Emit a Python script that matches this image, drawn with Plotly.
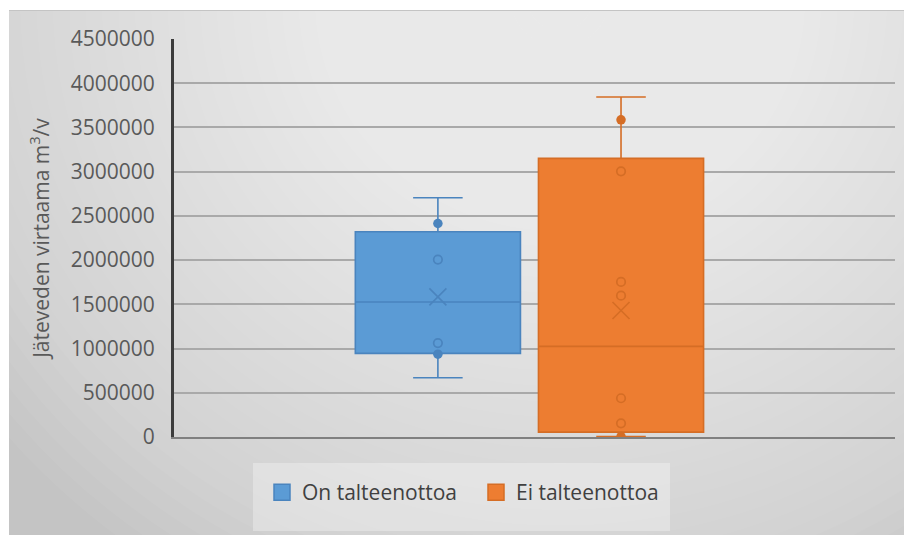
import plotly.graph_objects as go

# ---------------- data ----------------
series_names = ["On talteenottoa", "Ei talteenottoa"]
q1_values = [945000, 55000]
median_values = [1527000, 1025000]
q3_values = [2320000, 3150000]
lower_whisker = [670000, 5000]
upper_whisker = [2705000, 3845000]
mean_values = [1585000, 1430000]
points_open = [[2006000, 1062000], [3004000, 1753000, 1598000, 438000, 155000]]
points_filled = [[2414000, 937000], [3586000, 5000]]
y_ticks = [0, 500000, 1000000, 1500000, 2000000, 2500000, 3000000, 3500000, 4000000, 4500000]

fill_colors = ["#5B9BD5", "#ED7D31"]
line_colors = ["#4A84BE", "#D56D25"]
box_pos = [0.366, 0.620]
box_width = 0.229

# ---------------- geometry helpers ----------------
W, H = 904, 535
L, R, T, B = 174, 895, 39, 437


def px(x):
    return (x - L) / (R - L)


def py(y):
    return (B - y) / (B - T)


fig = go.Figure()

for i, name in enumerate(series_names):
    fig.add_trace(go.Box(
        x=[box_pos[i]], q1=[q1_values[i]], median=[median_values[i]], q3=[q3_values[i]],
        lowerfence=[lower_whisker[i]], upperfence=[upper_whisker[i]],
        width=box_width, whiskerwidth=0.3, boxpoints=False,
        fillcolor=fill_colors[i], line=dict(color=line_colors[i], width=1.6),
        name=name, showlegend=False, hoverinfo="skip",
    ))
    fig.add_trace(go.Scatter(
        x=[box_pos[i]] * len(points_open[i]), y=points_open[i], mode="markers",
        marker=dict(symbol="circle-open", size=8.5, color=line_colors[i], line=dict(width=1.7)),
        showlegend=False, hoverinfo="skip",
    ))
    fig.add_trace(go.Scatter(
        x=[box_pos[i]] * len(points_filled[i]), y=points_filled[i], mode="markers",
        marker=dict(symbol="circle", size=9.5, color=line_colors[i]),
        showlegend=False, hoverinfo="skip",
    ))
    fig.add_trace(go.Scatter(
        x=[box_pos[i]], y=[mean_values[i]], mode="markers",
        marker=dict(symbol="x-thin-open", size=17, color=line_colors[i], line=dict(width=1.6, color=line_colors[i])),
        showlegend=False, hoverinfo="skip",
    ))

# legend entries
for i, name in enumerate(series_names):
    fig.add_trace(go.Scatter(
        x=[None], y=[None], mode="markers", name=name,
        marker=dict(symbol="square", size=16, color=fill_colors[i], line=dict(width=1.5, color=line_colors[i])),
    ))

# ---------------- background (gradient approximation) ----------------
shapes = []
shapes.append(dict(type="rect", xref="paper", yref="paper", layer="below",
                   x0=px(9), x1=px(W + 5), y0=py(10), y1=py(H + 5),
                   fillcolor="#c4c4c4", line=dict(width=0)))
N = 44
cx, cy = 560, 0
for k in range(N):
    s = 1 - k / N
    rx, ry = 720 * s, 680 * s
    shapes.append(dict(type="circle", xref="paper", yref="paper", layer="below",
                       x0=px(cx - rx), x1=px(cx + rx), y0=py(cy + ry), y1=py(cy - ry),
                       fillcolor="white", opacity=0.042, line=dict(width=0)))
# white outer strips
shapes.append(dict(type="rect", xref="paper", yref="paper", layer="below",
                   x0=px(-5), x1=px(W + 5), y0=py(10), y1=py(-800),
                   fillcolor="white", line=dict(width=0)))
shapes.append(dict(type="rect", xref="paper", yref="paper", layer="below",
                   x0=px(-5), x1=px(9), y0=py(H + 5), y1=py(-5),
                   fillcolor="white", line=dict(width=0)))
# chart-area top border
shapes.append(dict(type="line", xref="paper", yref="paper", layer="below",
                   x0=px(9), x1=px(W), y0=py(10.5), y1=py(10.5),
                   line=dict(color="#c4c4c4", width=1)))
# legend background
shapes.append(dict(type="rect", xref="paper", yref="paper", layer="below",
                   x0=px(253), x1=px(670), y0=py(463), y1=py(531),
                   fillcolor="white", opacity=0.3, line=dict(width=0)))

fig.update_layout(
    width=W, height=H,
    margin=dict(l=L, r=W - R, t=T, b=H - B, pad=0),
    paper_bgcolor="white", plot_bgcolor="rgba(0,0,0,0)",
    font=dict(family="Open Sans", color="#595959"),
    shapes=shapes,
    showlegend=True,
    legend=dict(orientation="h", x=px(262), xanchor="left", y=py(472), yanchor="top",
                bgcolor="rgba(0,0,0,0)", font=dict(size=21, color="#404040"),
                itemwidth=30, tracegroupgap=0, entrywidth=169, entrywidthmode="pixels"),
    xaxis=dict(range=[0, 1], showgrid=False, zeroline=False, showticklabels=False,
               showline=True, linecolor="#808080", linewidth=2, ticks=""),
    yaxis=dict(range=[0, 4500000], tickvals=y_ticks, ticktext=[str(v) for v in y_ticks],
               showgrid=True, gridcolor="#a9a9a9", gridwidth=1.8, zeroline=False,
               showline=True, linecolor="#3c3c3c", linewidth=3, ticks="",
               ticklabelstandoff=12, tickfont=dict(size=21, color="#595959"),
               title=dict(text="Jäteveden virtaama m<sup>3</sup>/v", font=dict(size=21, color="#595959"),
                          standoff=16)),
)

fig.write_html("out.html")
